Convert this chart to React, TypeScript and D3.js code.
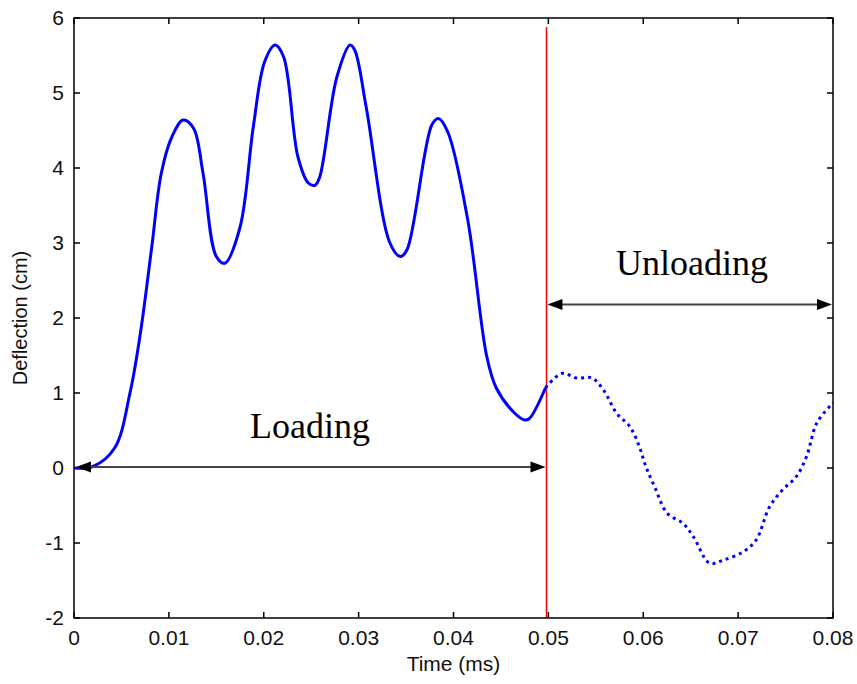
import React from "react";
import * as d3 from "d3";

const loadingT = [0, 0.002, 0.0043, 0.0059, 0.007, 0.0082, 0.0092, 0.0103, 0.0115, 0.0126, 0.0136, 0.015, 0.0159, 0.0175, 0.0189, 0.0201, 0.0212, 0.0221, 0.0236, 0.0247, 0.0254, 0.0259, 0.0277, 0.0291, 0.0296, 0.0308, 0.0333, 0.0344, 0.0351, 0.0377, 0.0384, 0.0394, 0.0415, 0.0435, 0.0445, 0.0463, 0.0475, 0.048, 0.0497];
const loadingV = [0, 0.02, 0.27, 1.0, 1.8, 2.95, 3.93, 4.41, 4.64, 4.53, 3.93, 2.82, 2.73, 3.21, 4.55, 5.42, 5.64, 5.48, 4.15, 3.8, 3.77, 3.88, 5.21, 5.64, 5.57, 4.81, 3.0, 2.82, 2.91, 4.57, 4.66, 4.48, 3.31, 1.49, 1.07, 0.75, 0.64, 0.66, 1.07];
const unloadingT = [0.0497, 0.0514, 0.053, 0.0546, 0.0558, 0.0572, 0.0586, 0.0596, 0.0603, 0.0612, 0.0625, 0.0642, 0.0653, 0.067, 0.0684, 0.0705, 0.0719, 0.0733, 0.0747, 0.0761, 0.0772, 0.0783, 0.08];
const unloadingV = [1.07, 1.26, 1.2, 1.2, 1.04, 0.73, 0.55, 0.28, 0.01, -0.25, -0.6, -0.74, -0.92, -1.27, -1.23, -1.12, -0.96, -0.52, -0.29, -0.12, 0.15, 0.6, 0.87];
const xTicks = [0, 0.01, 0.02, 0.03, 0.04, 0.05, 0.06, 0.07, 0.08];
const xTickLabels = ["0", "0.01", "0.02", "0.03", "0.04", "0.05", "0.06", "0.07", "0.08"];
const yTicks = [-2, -1, 0, 1, 2, 3, 4, 5, 6];
const switchTime = 0.0498;
const loadingArrow = [0, 0.0497];
const unloadingArrow = [0.0499, 0.08];
const loadingArrowY = 0;
const unloadingArrowY = 2.2;

const W = 857, H = 684;
const L = 74, R = 833, T = 18, B = 618;

export default function App() {
  const x = d3.scaleLinear().domain([0, 0.08]).range([L, R]);
  const y = d3.scaleLinear().domain([-2, 6]).range([B, T]);
  const line = d3.line<[number, number]>().x(d => x(d[0])).y(d => y(d[1])).curve(d3.curveCatmullRom.alpha(0.5));
  const loadPts = loadingT.map((t, i) => [t, loadingV[i]] as [number, number]);
  const unloadPts = unloadingT.map((t, i) => [t, unloadingV[i]] as [number, number]);
  const tickLen = 6;
  const font = "Liberation Sans, Arial, sans-serif";
  const arrow = (x1: number, x2: number, yy: number, key: string) => {
    const ah = 15, aw = 5.5;
    return (
      <g key={key}>
        <line x1={x1 + ah - 2} x2={x2 - ah + 2} y1={yy} y2={yy} stroke="#444" strokeWidth={2} />
        <path d={`M${x1},${yy}L${x1 + ah},${yy - aw}L${x1 + ah},${yy + aw}Z`} fill="#000" />
        <path d={`M${x2},${yy}L${x2 - ah},${yy - aw}L${x2 - ah},${yy + aw}Z`} fill="#000" />
      </g>
    );
  };
  return (
    <svg width={W} height={H} style={{ position: "absolute", left: 0, top: 0, background: "#fff" }}>
      <rect x={0} y={0} width={W} height={H} fill="#fff" />
      {xTicks.map((t, i) => (
        <g key={"xt" + i}>
          <line x1={x(t)} x2={x(t)} y1={B} y2={B - tickLen} stroke="#000" strokeWidth={1.5} />
          <line x1={x(t)} x2={x(t)} y1={T} y2={T + tickLen} stroke="#000" strokeWidth={1.5} />
          <text x={x(t)} y={B + 27} textAnchor="middle" fontFamily={font} fontSize={21} fill="#111">{xTickLabels[i]}</text>
        </g>
      ))}
      {yTicks.map((t, i) => (
        <g key={"yt" + i}>
          <line x1={L} x2={L + tickLen} y1={y(t)} y2={y(t)} stroke="#000" strokeWidth={1.5} />
          <line x1={R} x2={R - tickLen} y1={y(t)} y2={y(t)} stroke="#000" strokeWidth={1.5} />
          <text x={L - 10} y={y(t) + 7} textAnchor="end" fontFamily={font} fontSize={21} fill="#111">{t}</text>
        </g>
      ))}
      <line x1={x(switchTime)} x2={x(switchTime)} y1={T + 9} y2={B} stroke="#ff0000" strokeWidth={1.5} />
      <path d={line(loadPts) || ""} fill="none" stroke="#0000ff" strokeWidth={3} strokeLinejoin="round" />
      <path d={line(unloadPts) || ""} fill="none" stroke="#0000ff" strokeWidth={3} strokeDasharray="3,4" />
      {arrow(x(loadingArrow[0]) + 2, x(loadingArrow[1]), y(loadingArrowY) - 1, "la")}
      {arrow(x(unloadingArrow[0]), x(unloadingArrow[1]) - 1, y(unloadingArrowY) + 1.5, "ua")}
      <text x={310} y={438} textAnchor="middle" fontFamily="Liberation Serif, Times New Roman, serif" fontSize={36} fill="#000">Loading</text>
      <text x={692} y={275} textAnchor="middle" fontFamily="Liberation Serif, Times New Roman, serif" fontSize={36} fill="#000">Unloading</text>
      <rect x={L} y={T} width={R - L} height={B - T} fill="none" stroke="#000" strokeWidth={1.5} />
      <text x={(L + R) / 2} y={671} textAnchor="middle" fontFamily={font} fontSize={21} fill="#111">Time (ms)</text>
      <text transform={`translate(27,${(T + B) / 2}) rotate(-90)`} textAnchor="middle" fontFamily={font} fontSize={20} fill="#111">Deflection (cm)</text>
    </svg>
  );
}
